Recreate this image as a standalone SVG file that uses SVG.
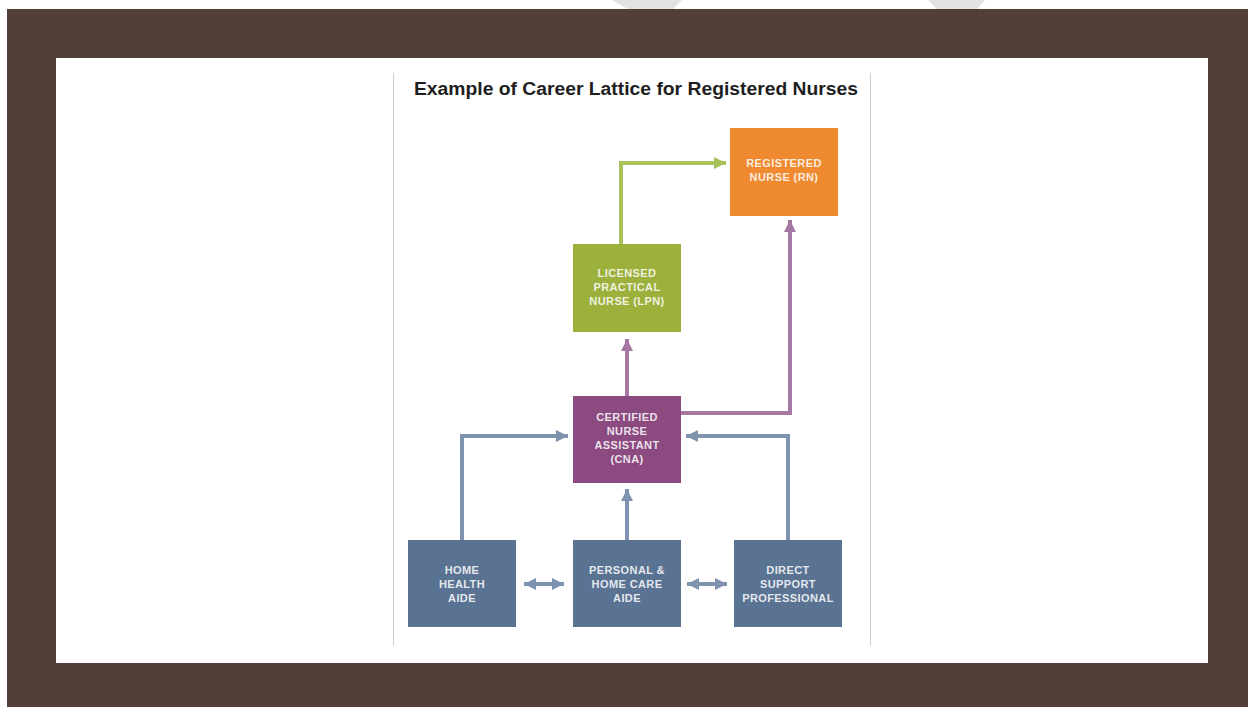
<svg xmlns="http://www.w3.org/2000/svg" width="1248" height="707" viewBox="0 0 1248 707">
  <style>
    .box text { font-family: "Liberation Sans", Arial, sans-serif; font-size: 11px; font-weight: bold; fill: #ffffff; fill-opacity: 0.85; text-anchor: middle; letter-spacing: 0.4px; }
    .title { font-family: "Liberation Sans", Arial, sans-serif; font-size: 18px; font-weight: bold; fill: #1e1e1e; }
    .green { stroke: #a8c25a; stroke-width: 4; fill: none; }
    .purple { stroke: #a577a3; stroke-width: 4; fill: none; }
    .blue { stroke: #7f93af; stroke-width: 4; fill: none; }
  </style>
  <defs>
    <marker id="ag" markerUnits="userSpaceOnUse" markerWidth="14" markerHeight="12" refX="12" refY="6" orient="auto">
      <path d="M0,0 L12,6 L0,12 z" fill="#a8c25a"/>
    </marker>
    <marker id="ap" markerUnits="userSpaceOnUse" markerWidth="14" markerHeight="12" refX="12" refY="6" orient="auto">
      <path d="M0,0 L12,6 L0,12 z" fill="#a577a3"/>
    </marker>
    <marker id="ab" markerUnits="userSpaceOnUse" markerWidth="14" markerHeight="12" refX="12" refY="6" orient="auto">
      <path d="M0,0 L12,6 L0,12 z" fill="#7f93af"/>
    </marker>
    <marker id="abs" markerUnits="userSpaceOnUse" markerWidth="14" markerHeight="12" refX="0" refY="6" orient="auto">
      <path d="M12,0 L0,6 L12,12 z" fill="#7f93af"/>
    </marker>
  </defs>

  <!-- background -->
  <rect x="0" y="0" width="1248" height="707" fill="#ffffff"/>
  <path d="M612,0 L682,0 L673,9 L628,9 z" fill="#e2e2e2"/>
  <path d="M928,0 L985,0 L977,9 L937,9 z" fill="#e2e2e2"/>
  <rect x="7" y="9" width="1241" height="698" fill="#523f37"/>
  <rect x="56" y="58" width="1152" height="605" fill="#ffffff"/>
  <line x1="393.5" y1="73" x2="393.5" y2="646" stroke="#cfcfcf" stroke-width="1"/>
  <line x1="870.5" y1="73" x2="870.5" y2="646" stroke="#cfcfcf" stroke-width="1"/>

  <text class="title" x="414" y="95" textLength="444" lengthAdjust="spacingAndGlyphs">Example of Career Lattice for Registered Nurses</text>

  <g id="connectors">
    <path class="green" d="M621,244 L621,163 L726,163" marker-end="url(#ag)"/>
    <path class="purple" d="M681,413 L790,413 L790,220" marker-end="url(#ap)"/>
    <path class="purple" d="M627,396 L627,339" marker-end="url(#ap)"/>
    <path class="blue" d="M462,540 L462,436 L568,436" marker-end="url(#ab)"/>
    <path class="blue" d="M788,540 L788,436 L686,436" marker-end="url(#ab)"/>
    <path class="blue" d="M627,540 L627,489" marker-end="url(#ab)"/>
    <path class="blue" d="M524,584 L564,584" marker-start="url(#abs)" marker-end="url(#ab)"/>
    <path class="blue" d="M687,584 L727,584" marker-start="url(#abs)" marker-end="url(#ab)"/>
  </g>

  <g id="rn" class="box">
    <rect x="730" y="128" width="108" height="88" fill="#ef8a30"/>
    <text x="784" y="167">REGISTERED</text>
    <text x="784" y="181">NURSE (RN)</text>
  </g>
  <g id="lpn" class="box">
    <rect x="573" y="244" width="108" height="88" fill="#9cb03c"/>
    <text x="627" y="277">LICENSED</text>
    <text x="627" y="291">PRACTICAL</text>
    <text x="627" y="305">NURSE (LPN)</text>
  </g>
  <g id="cna" class="box">
    <rect x="573" y="396" width="108" height="87" fill="#8b4a80"/>
    <text x="627" y="421">CERTIFIED</text>
    <text x="627" y="435">NURSE</text>
    <text x="627" y="449">ASSISTANT</text>
    <text x="627" y="463">(CNA)</text>
  </g>
  <g id="hha" class="box">
    <rect x="408" y="540" width="108" height="87" fill="#5a7393"/>
    <text x="462" y="574">HOME</text>
    <text x="462" y="588">HEALTH</text>
    <text x="462" y="602">AIDE</text>
  </g>
  <g id="phca" class="box">
    <rect x="573" y="540" width="108" height="87" fill="#5a7393"/>
    <text x="627" y="574">PERSONAL &amp;</text>
    <text x="627" y="588">HOME CARE</text>
    <text x="627" y="602">AIDE</text>
  </g>
  <g id="dsp" class="box">
    <rect x="734" y="540" width="108" height="87" fill="#5a7393"/>
    <text x="788" y="574">DIRECT</text>
    <text x="788" y="588">SUPPORT</text>
    <text x="788" y="602">PROFESSIONAL</text>
  </g>
</svg>
